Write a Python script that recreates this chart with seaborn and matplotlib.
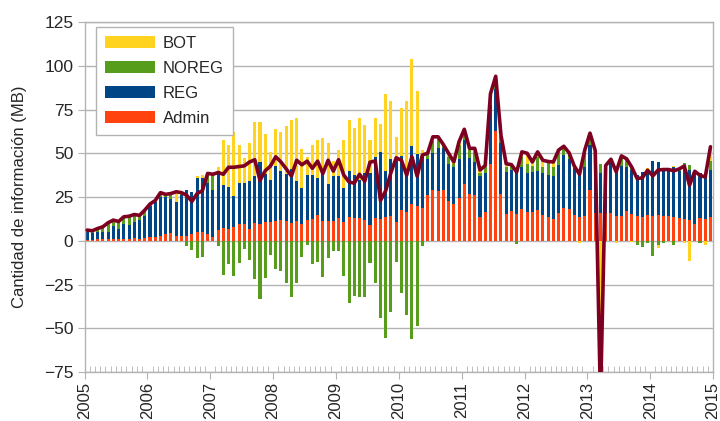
import numpy as np
import matplotlib.pyplot as plt
import seaborn as sns
from matplotlib.patches import Patch
from matplotlib.ticker import MultipleLocator


# monthly values (MB), jan 2005 .. dec 2014
years = [str(y) for y in range(2005, 2016)]

admin = [0.5, 0.5, 1, 1, 1, 1, 1, 1, 1, 1.5, 1, 1.5,
         2, 2, 2.5, 4, 4.5, 3, 3, 2.5, 4, 5, 5, 4,
         2, 6, 7.5, 6.5, 7.6, 9.5, 9.5, 7, 10, 9.5, 10.7, 11,
         11.4, 12, 11.4, 10, 11.4, 9.5, 12, 12.4, 14.7, 11.4, 11.4, 11.4,
         13, 11, 13.5, 13, 13, 12, 9, 13, 12.4, 13.5, 14, 11,
         17.5, 16.4, 21, 20, 18.7, 26, 29, 28.4, 29, 22.7, 21, 24.6,
         32.4, 26.7, 26, 13.7, 16.4, 44, 62.7, 26.7, 15.2, 17, 15.2, 18,
         16.4, 16.4, 17.5, 14.8, 13.3, 12.2, 15.6, 18.9, 18, 14.7, 13.7, 14,
         29, 16, 15.6, 15.6, 15.6, 14, 14, 17, 15.2, 14, 13.7, 14.7,
         14, 14.7, 14, 14, 13.3, 12.8, 12.2, 11.8, 9.5, 12.8, 12.2, 13.3]

reg = [4.3, 3.7, 4, 4, 4, 7.5, 6, 8.5, 8, 9.5, 11, 12.5,
       18, 20, 22.5, 21, 19.5, 19, 23, 26.5, 24, 30.6, 30.6, 28.8,
       27, 32, 24.5, 24.5, 18, 23.5, 23.5, 27, 27, 35.5, 27.3, 23.5,
       31.3, 28, 26.6, 31, 22.6, 20.5, 25.5, 25, 21.3, 26.6, 21, 25.6,
       24, 19, 26.5, 24.5, 22, 27, 30, 35, 38.6, 26.5, 33, 35,
       31, 23, 33, 29.5, 29.7, 20.5, 21, 24.6, 24, 21, 21, 22.4,
       25.1, 20.7, 19, 23.3, 22.6, 33.5, 24.3, 28.9, 24.2, 23.4, 24.8, 24.3,
       22.1, 23, 22.5, 24.2, 24.2, 24.8, 27.8, 30.1, 29, 26.6, 24.8, 28.3,
       25.7, 35, 23.3, 27.4, 29, 26.4, 29, 25.3, 25.2, 23.5, 25.7, 26.1,
       31.7, 30.1, 26.8, 26.4, 28.7, 27.2, 29.8, 28.6, 29.4, 26.1, 23.8, 27.1]

noreg = [1.3, 1.5, 2, 3, 5.3, 3.3, 4, 4.2, 5, 4, 2.5, 3.5,
         1, 1, 2.5, 1.5, 3, 0, 1, -3, -5.5, -10, -9, 5.7,
         9, -3, -19.5, -13, -20, -12.6, -4.6, -11, -21.7, -33.5, -21, -8,
         -16, -17, -24.4, -32, -24, -9, -2.5, -13.5, -12, -20.6, -10, -5.7,
         -5.7, -20, -35.4, -31.6, -32, -32, -12.6, -24.4, -44, -55.4, -41, -12,
         -30, -42.5, -56, -48.6, -3, 2.8, 7, 5, 1, 4.3, 2, 7.6,
         5.2, 4.4, 6, 1.5, 3, 4.5, 5, 4.4, 2.9, 2.6, -2, 5.7,
         5.5, 3.3, 8, 3.3, 7.1, 5.3, 7.4, 3.8, 2, 0, 0.5, 9,
         3.8, 0, 5.1, 0, 1.5, 0, 5, 4.5, 2, -2.3, -3.4, -1,
         -8.6, -2.5, -1, 0, -2.5, 0.5, 2.2, 2.8, 0.5, -1.5, 2.9, 5.3]

bot = [0, 0, 0, 0, 0, 0, 0, 0, 0, 0, 0, 0,
       0, 0, 0, 0, 0, 6, 0.5, 0, 0, 1.4, 2, 0,
       0, 4, 25.5, 24, 36.4, 22, 14.4, 22, 31, 23, 23, 16.2,
       21.3, 22, 27.5, 28, 36, 22.4, 10.5, 17.5, 21.5, 21, 23.6, 8.5,
       15, 27.5, 29, 27, 35, 27, 18.5, 22, 16, 44, 33, 13.4,
       27.5, 40.6, 50, 36, 3.6, 0.7, 2.4, 1.4, 1, 2, 1, 2,
       1, 1, 1.8, 1.9, 1, 2, 2, 0.4, 1.7, 0.5, 1.3, 2.8,
       6, 2.3, 2.8, 3.7, 0.7, 2.7, 1, 1.2, 1.3, 1.4, -1, 0.5,
       3, 0.5, -135, 0, 0.5, -1, 0.5, 0, -0.5, 0.3, 0, 0.5,
       0, -1.9, 0.9, 0.3, 0.5, 0.5, -1.5, -11.5, 0.3, 0, -2.5, 8]

series = ["Admin", "REG", "NOREG", "BOT"]
colors = {"Admin": "#FF420E", "REG": "#004586", "NOREG": "#579D1C", "BOT": "#FFD320"}
line_color = "#7E0021"
grid_color = "#b3b3b3"

sns.set_style("white")
plt.rcParams["font.family"] = ["Liberation Sans", "DejaVu Sans"]

fig = plt.figure(figsize=(7.2, 4.21), dpi=100)
ax = fig.add_axes([0.1174, 0.1164, 0.873, 0.8313])

x = np.arange(len(admin)) + 0.5
pos_base = np.zeros(len(x))
neg_base = np.zeros(len(x))
for name, vals in zip(series, [admin, reg, noreg, bot]):
    v = np.array(vals, dtype=float)
    base = np.where(v >= 0, pos_base, neg_base)
    ax.bar(x, v, bottom=base, width=0.58, color=colors[name], linewidth=0, zorder=2)
    pos_base += np.clip(v, 0, None)
    neg_base += np.clip(v, None, 0)

# total = sum of the four series
total = np.array(admin) + np.array(reg) + np.array(noreg) + np.array(bot)
sns.lineplot(x=x, y=total, ax=ax, color=line_color, lw=2.6, zorder=3)

ax.set_xlim(0, 120)
ax.set_ylim(-75, 125)
ax.yaxis.set_major_locator(MultipleLocator(25))
ax.set_xticks(np.arange(0, 121, 12))
ax.set_xticklabels(years, rotation=90)
ax.xaxis.set_minor_locator(MultipleLocator(1))

ax.set_axisbelow(True)
ax.yaxis.grid(True, color=grid_color, lw=1)
for s in ax.spines.values():
    s.set_color(grid_color)
    s.set_linewidth(1)

ax.tick_params(axis="y", which="major", direction="out", length=5, color=grid_color,
               labelsize=12.5, pad=3)
ax.tick_params(axis="x", which="major", direction="out", length=5, color=grid_color,
               labelsize=12, pad=2)
ax.tick_params(axis="x", which="minor", direction="in", length=4, color=grid_color)
ax.tick_params(left=True, bottom=True)
ax.tick_params(axis="x", which="minor", bottom=True)

ax.set_ylabel("Cantidad de información (MB)", fontsize=12, labelpad=12)

handles = [Patch(facecolor=colors[n], edgecolor="none") for n in ["BOT", "NOREG", "REG", "Admin"]]
leg = ax.legend(handles, ["BOT", "NOREG", "REG", "Admin"], loc="upper left",
                bbox_to_anchor=(0.018, 0.986), borderaxespad=0, fontsize=12,
                handlelength=3.0, handleheight=0.75, labelspacing=0.6,
                borderpad=0.55, handletextpad=0.45, fancybox=False, framealpha=1)
leg.get_frame().set_edgecolor(grid_color)
leg.get_frame().set_linewidth(1)

fig.savefig("out.png", dpi=100)
